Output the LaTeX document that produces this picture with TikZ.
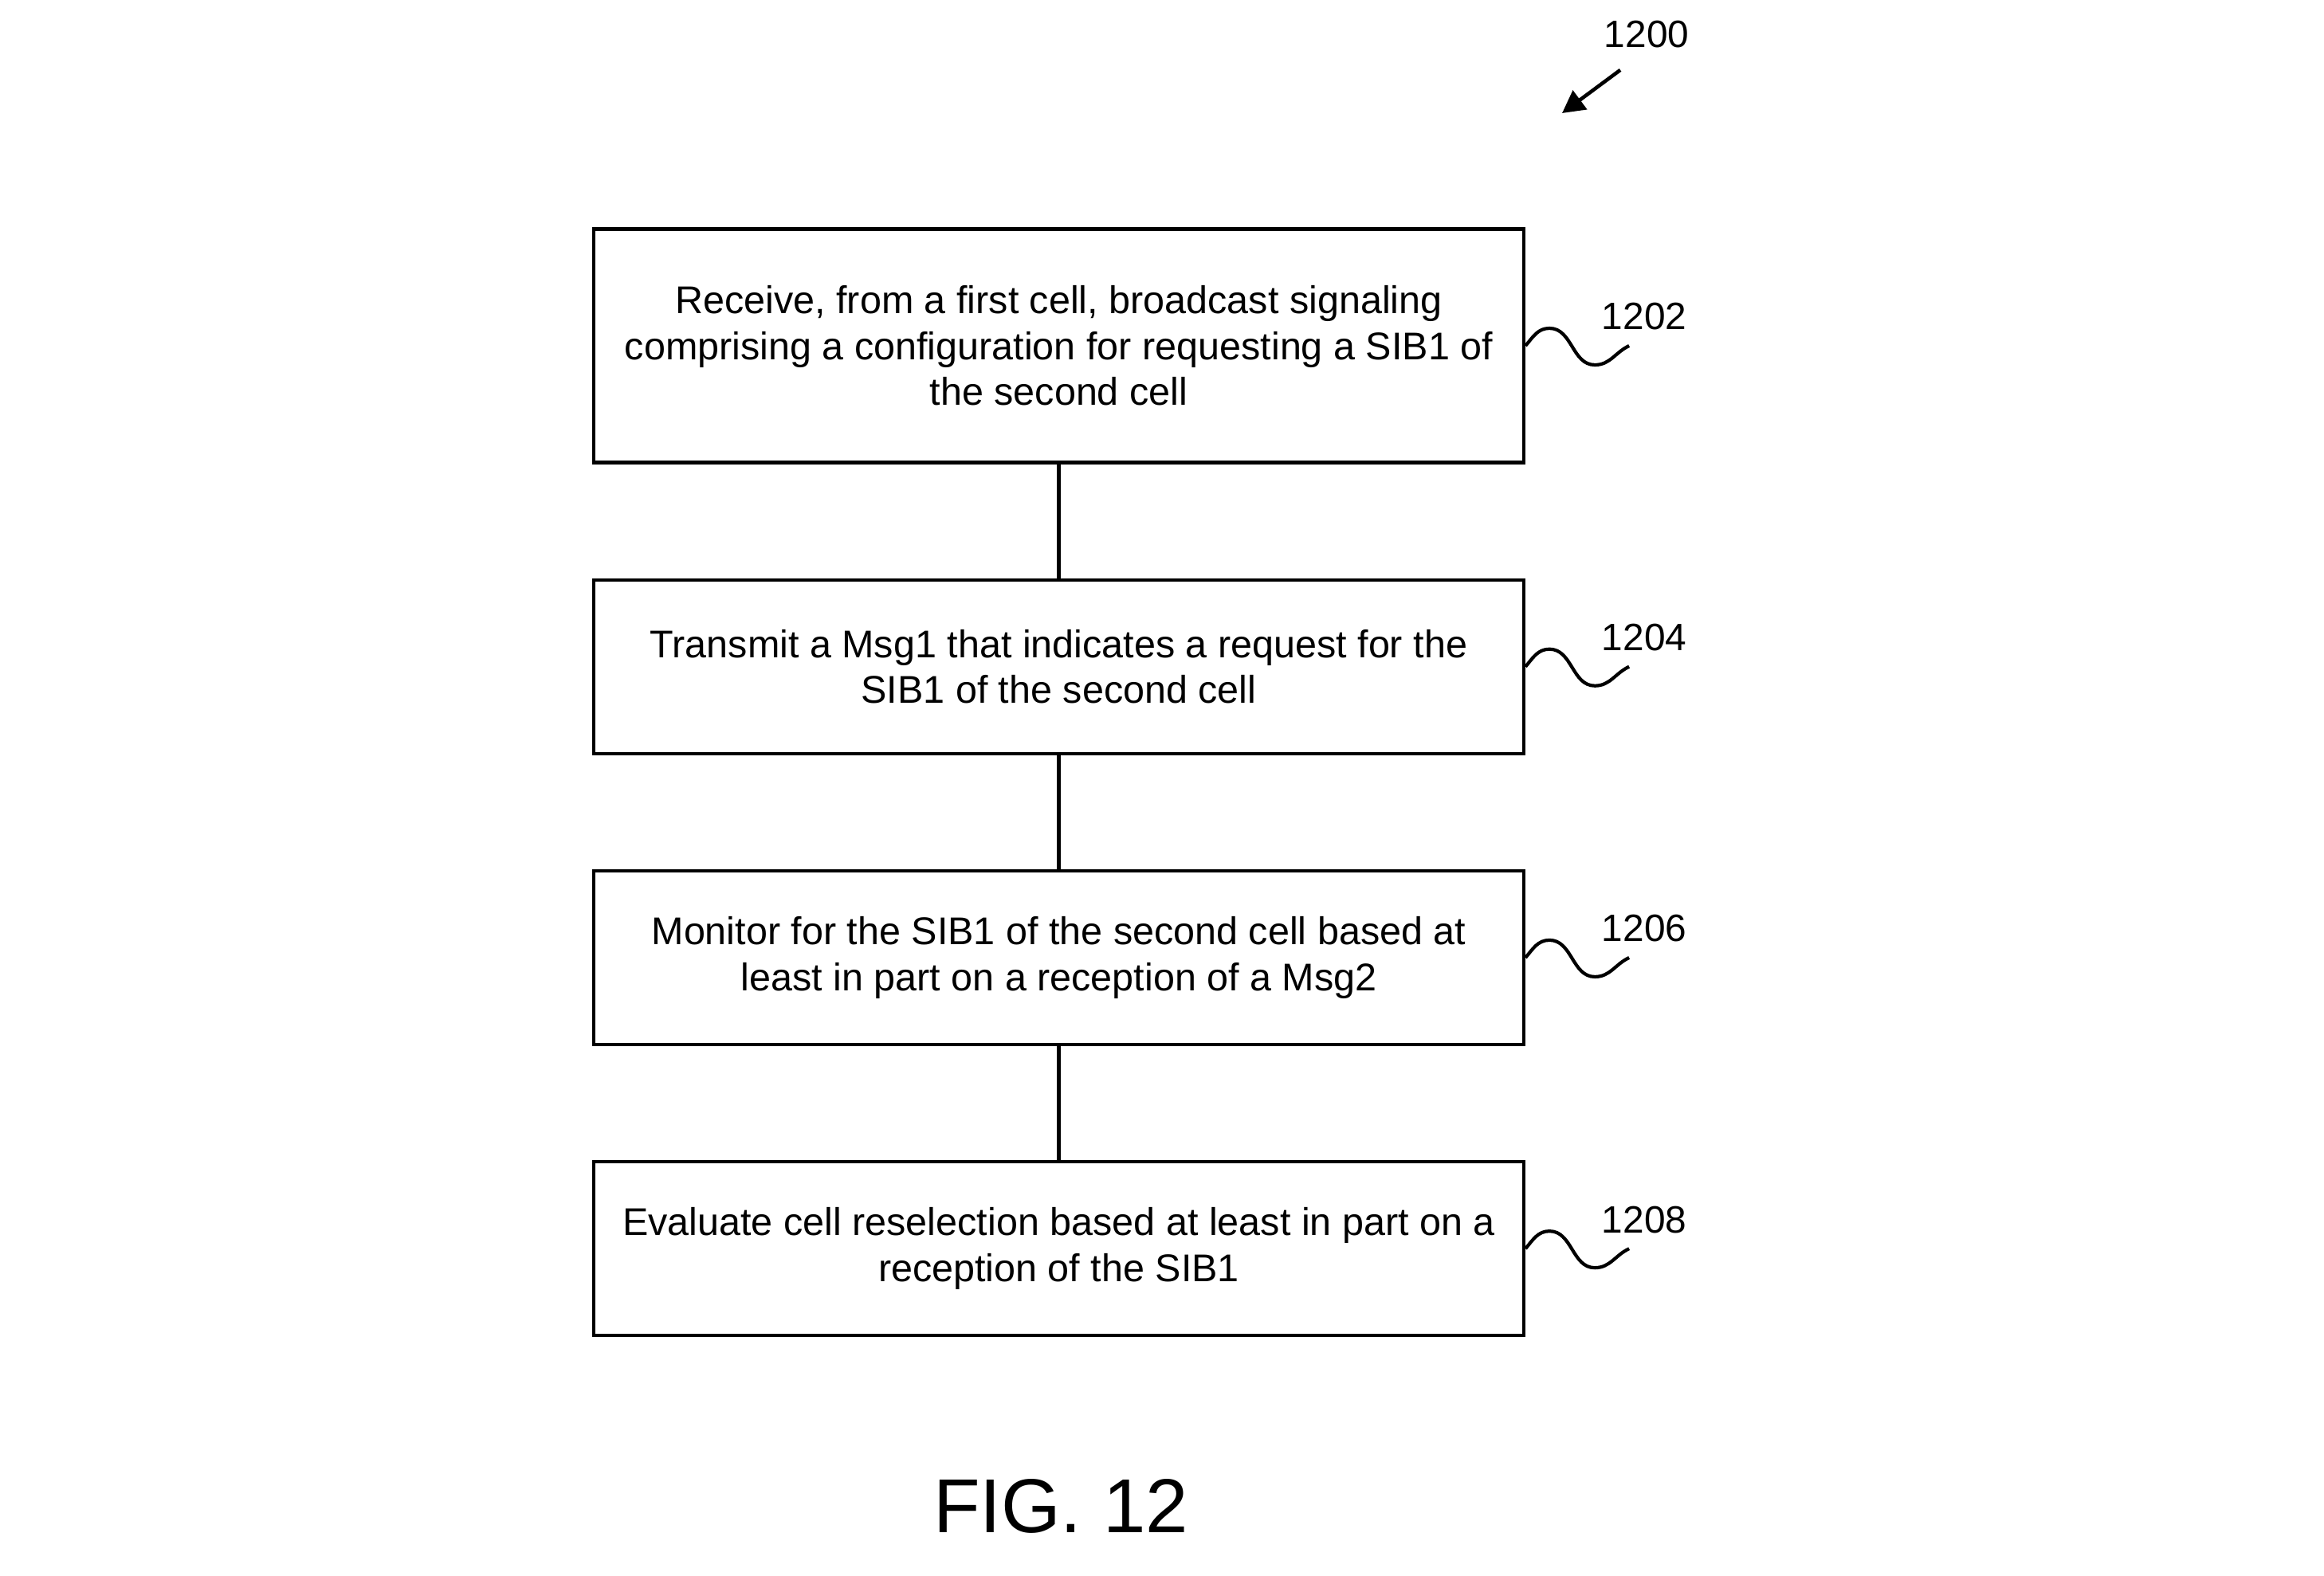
\documentclass[tikz,border=0pt]{standalone}
\usepackage{fontspec}
\setmainfont{Liberation Sans}
\usetikzlibrary{positioning,calc,arrows.meta}

\begin{document}
\begin{tikzpicture}[stepbox/.style={draw,line width=1.2pt,minimum width=11.67cm,minimum height=2.18cm,align=center,font=\fontsize{13.8}{16.4}\selectfont},
	reflabel/.style={anchor=base,font=\fontsize{13.6}{16.4}\selectfont},
	squig/.style={line width=1.2pt}]
	\useasboundingbox (0,0) rectangle (29.16,-19.78);
	\node[stepbox,minimum height=2.93cm] (s1202) at (13.285,-4.34) {Receive, from a first cell, broadcast signaling\\comprising a configuration for requesting a SIB1 of\\the second cell};
	\node[stepbox,below=1.43cm of s1202] (s1204) {Transmit a Msg1 that indicates a request for the\\SIB1 of the second cell};
	\node[stepbox,below=1.43cm of s1204] (s1206) {Monitor for the SIB1 of the second cell based at\\least in part on a reception of a Msg2};
	\node[stepbox,below=1.43cm of s1206] (s1208) {Evaluate cell reselection based at least in part on a\\reception of the SIB1};
	\draw[line width=1.2pt] (s1202) -- (s1204);
	\draw[line width=1.2pt] (s1204) -- (s1206);
	\draw[line width=1.2pt] (s1206) -- (s1208);
	% reference numerals with wavy leaders
	\foreach \n in {1202,1204,1206,1208}{
		\draw[squig] (s\n.east) to[out=50,in=180] ++(0.30,0.22) to[out=0,in=180] ++(0.57,-0.46) to[out=0,in=205] ++(0.43,0.24);
		\node[reflabel] (l\n) at ($(s\n.east)+(1.49,0.20)$) {\n};
	}
	\node[reflabel] (l1200) at (20.66,-0.60) {1200};
	\coordinate (fig) at (19.60,-1.42);
	\draw[line width=1.3pt,-{Triangle[length=0.28cm,width=0.29cm]}] ($(l1200.south)+(-0.33,-0.15)$) -- (fig);
	\node[anchor=base,font=\fontsize{27.3}{32}\selectfont] (title) at (13.31,-19.23) {FIG. 12};
\end{tikzpicture}
\end{document}
